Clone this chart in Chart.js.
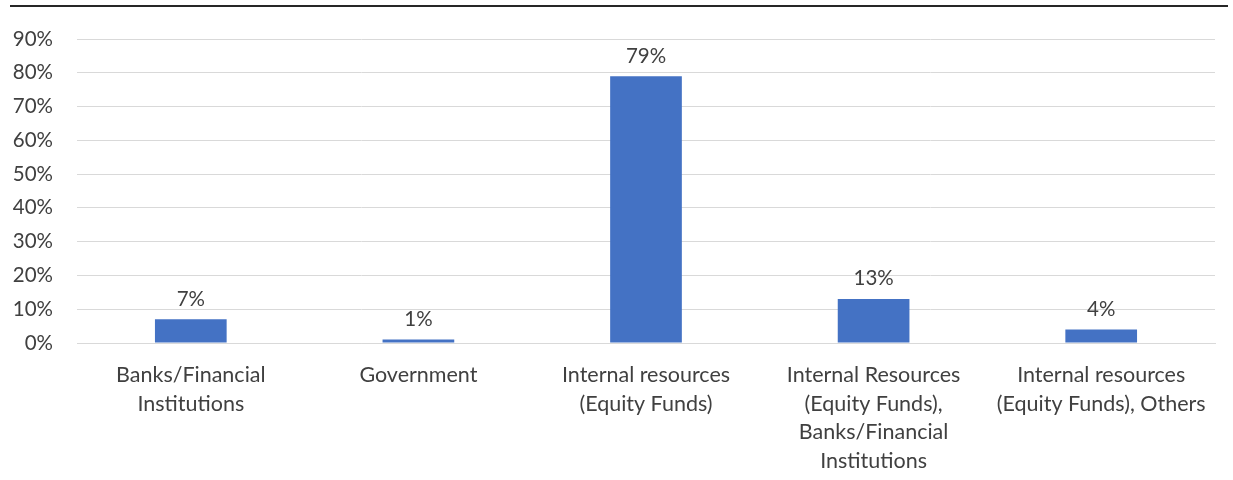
<!DOCTYPE html>
<html>
<head>
<meta charset="utf-8">
<script src="https://cdn.jsdelivr.net/npm/chart.js@4.4.1/dist/chart.umd.min.js"></script>
<style>
  html, body { margin: 0; padding: 0; background: #fff; }
  #wrap { width: 1233px; height: 480px; position: relative; }
</style>
</head>
<body>
<div id="wrap"><canvas id="chart" width="1233" height="480"></canvas></div>
<script>
// funding sources, share of respondents (%)
const categories = [
  ["Banks/Financial", "Institutions"],
  ["Government"],
  ["Internal resources", "(Equity Funds)"],
  ["Internal Resources", "(Equity Funds),", "Banks/Financial", "Institutions"],
  ["Internal resources", "(Equity Funds), Others"]
];
const shares = [7, 1, 79, 13, 4];
const yTicks = [0, 10, 20, 30, 40, 50, 60, 70, 80, 90];

const FONT = "Lato, 'Open Sans', sans-serif";
const TEXT = "#404040";

// thin black rule across the top of the figure
const topRule = {
  id: "topRule",
  afterDraw(chart) {
    const ctx = chart.ctx;
    ctx.save();
    ctx.strokeStyle = "#262626";
    ctx.lineWidth = 2;
    ctx.beginPath();
    ctx.moveTo(10, 6);
    ctx.lineTo(1228, 6);
    ctx.stroke();
    ctx.restore();
  }
};

// percentage labels sitting above each bar
const barLabels = {
  id: "barLabels",
  afterDatasetsDraw(chart) {
    const ctx = chart.ctx;
    const meta = chart.getDatasetMeta(0);
    ctx.save();
    ctx.fillStyle = TEXT;
    ctx.font = "20.5px " + FONT;
    ctx.textAlign = "center";
    ctx.textBaseline = "bottom";
    meta.data.forEach((bar, i) => {
      ctx.fillText(shares[i] + "%", bar.x, bar.y - 10);
    });
    ctx.restore();
  }
};

new Chart(document.getElementById("chart"), {
  type: "bar",
  data: {
    labels: categories,
    datasets: [{
      data: shares,
      backgroundColor: "#4472C4",
      barPercentage: 0.63,
      categoryPercentage: 0.5
    }]
  },
  options: {
    responsive: false,
    animation: false,
    layout: { padding: { left: 0, right: 18, top: 39, bottom: 0 } },
    plugins: {
      legend: { display: false },
      tooltip: { enabled: false }
    },
    scales: {
      x: {
        grid: { display: false },
        border: { color: "#d9d9d9", width: 1 },
        ticks: {
          color: TEXT,
          font: { family: FONT, size: 21.5, lineHeight: 1.33 },
          padding: 10,
          maxRotation: 0,
          autoSkip: false
        },
        afterFit(scale) { scale.height = 137; }
      },
      y: {
        min: 0,
        max: 90,
        afterBuildTicks(scale) {
          scale.ticks = yTicks.map(v => ({ value: v }));
        },
        grid: { color: "#d9d9d9", lineWidth: 1, drawTicks: false },
        border: { display: false },
        ticks: {
          color: TEXT,
          font: { family: FONT, size: 20.5 },
          padding: 24,
          callback: v => v + "%"
        },
        afterFit(scale) { scale.width = 77; }
      }
    }
  },
  plugins: [topRule, barLabels]
});
</script>
</body>
</html>
